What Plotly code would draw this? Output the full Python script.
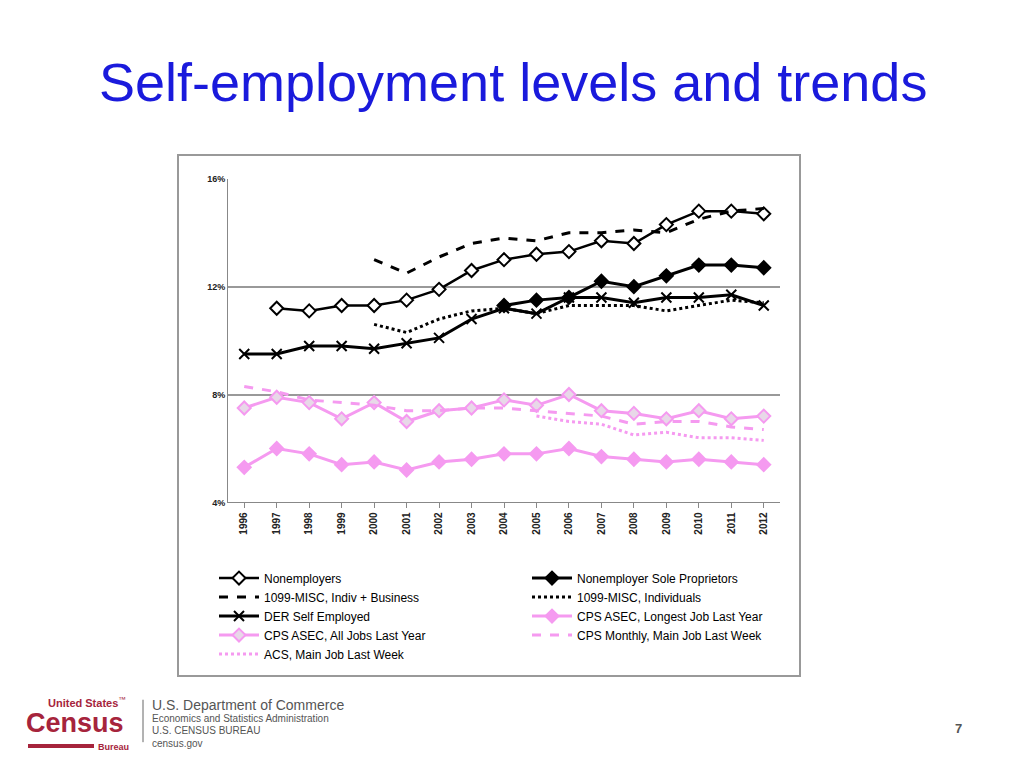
import plotly.graph_objects as go

years = list(range(1996, 2013))
nonemployers = [None, 11.2, 11.1, 11.3, 11.3, 11.5, 11.9, 12.6, 13.0, 13.2, 13.3, 13.7, 13.6, 14.3, 14.8, 14.8, 14.7]
sole_prop = [None]*8 + [11.3, 11.5, 11.6, 12.2, 12.0, 12.4, 12.8, 12.8, 12.7]
misc_ib = [None]*4 + [13.0, 12.5, 13.1, 13.6, 13.8, 13.7, 14.0, 14.0, 14.1, 14.0, 14.5, 14.8, 14.9]
misc_ind = [None]*4 + [10.6, 10.3, 10.8, 11.1, 11.2, 11.0, 11.3, 11.3, 11.3, 11.1, 11.3, 11.5, 11.4]
der = [9.5, 9.5, 9.8, 9.8, 9.7, 9.9, 10.1, 10.8, 11.2, 11.0, 11.6, 11.6, 11.4, 11.6, 11.6, 11.7, 11.3]
cps_long = [5.3, 6.0, 5.8, 5.4, 5.5, 5.2, 5.5, 5.6, 5.8, 5.8, 6.0, 5.7, 5.6, 5.5, 5.6, 5.5, 5.4]
cps_all = [7.5, 7.9, 7.7, 7.1, 7.7, 7.0, 7.4, 7.5, 7.8, 7.6, 8.0, 7.4, 7.3, 7.1, 7.4, 7.1, 7.2]
cps_month = [8.3, 8.1, 7.8, 7.7, 7.6, 7.4, 7.4, 7.5, 7.5, 7.4, 7.3, 7.2, 6.9, 7.0, 7.0, 6.8, 6.7]
acs = [None]*9 + [7.2, 7.0, 6.9, 6.5, 6.6, 6.4, 6.4, 6.3]

W, H = 1008, 752
def X(px): return (px - 8) / W
def Y(py): return 1 - (py - 8) / H

PINK = "#f59af0"
RED = "#a6243c"
fig = go.Figure()
def add(name, y, color, dash, width, legend, symbol=None, size=9, mcolor=None, mline=None):
    mode = "lines+markers" if symbol else "lines"
    marker = dict(symbol=symbol, size=size, color=mcolor or color,
                  line=dict(color=mline or color, width=2)) if symbol else None
    fig.add_trace(go.Scatter(x=years, y=y, name=name, mode=mode, legend=legend,
                             line=dict(color=color, dash=dash, width=width),
                             marker=marker, connectgaps=False))

add("Nonemployers", nonemployers, "black", "solid", 2.5, "legend", "diamond", 10, "white", "black")
add("Nonemployer Sole Proprietors", sole_prop, "black", "solid", 3, "legend2", "diamond", 10)
add("1099-MISC, Indiv + Business", misc_ib, "black", "dash", 3, "legend")
add("1099-MISC, Individuals", misc_ind, "black", "dot", 3, "legend2")
add("DER Self Employed", der, "black", "solid", 3, "legend", "x-thin-open", 10)
add("CPS ASEC, Longest Job Last Year", cps_long, PINK, "solid", 3, "legend2", "diamond", 10)
add("CPS ASEC, All Jobs Last Year", cps_all, PINK, "solid", 3, "legend", "diamond", 10, "#e8d8e8", PINK)
add("CPS Monthly, Main Job Last Week", cps_month, PINK, "dash", 3, "legend2")
add("ACS, Main Job Last Week", acs, PINK, "dot", 3, "legend")

leg = dict(orientation="v", xanchor="left", yanchor="top", font=dict(size=12),
           tracegroupgap=0, itemwidth=40, bgcolor="rgba(0,0,0,0)", traceorder="normal")
fig.update_layout(
    width=W, height=H, margin=dict(l=0, r=0, t=0, b=0),
    paper_bgcolor="white", plot_bgcolor="white",
    font=dict(family="Liberation Sans, Arial", color="black"),
    xaxis=dict(domain=[X(228), X(780)], range=[1995.5, 2012.5], tickmode="array",
               tickvals=years, ticktext=["<b>%d</b>" % y for y in years], tickangle=-90,
               tickfont=dict(size=10, family="Liberation Sans", color="#222"),
               showline=True, linecolor="#888", ticks="outside", ticklen=5, tickcolor="#888",
               showgrid=False, zeroline=False),
    yaxis=dict(domain=[Y(504), Y(176)], range=[4, 16], tickvals=[4, 8, 12, 16],
               ticktext=["<b>4%</b>", "<b>8%</b>", "<b>12%</b>", "<b>16%</b>"], tickfont=dict(size=9, color="#222"),
               showline=True, linecolor="#888", gridcolor="#999", gridwidth=1.5, zeroline=False),
    legend=dict(leg, x=X(214), y=Y(566)),
    legend2=dict(leg, x=X(527), y=Y(566)),
    showlegend=True,
)
fig.add_shape(type="rect", xref="paper", yref="paper", x0=X(178), x1=X(800), y0=Y(680), y1=Y(152),
              line=dict(color="#999", width=2), layer="below")
def ann(text, x, y, size, color, xanchor="left"):
    fig.add_annotation(text=text, xref="paper", yref="paper", x=X(x), y=Y(y), xanchor=xanchor,
                       yanchor="middle", showarrow=False, font=dict(size=size, color=color))
ann("Self-employment levels and trends", 513, 78, 54, "#1a1adc", "center")
ann("<b>United States</b><sup>™</sup>", 46, 706, 11, RED)
ann("<b>Census</b>", 24, 728, 27, RED)
ann("<b>Bureau</b>", 96, 752, 9, RED)
fig.add_shape(type="line", xref="paper", yref="paper", x0=X(28), x1=X(94), y0=Y(751), y1=Y(751),
              line=dict(color=RED, width=4))
fig.add_shape(type="line", xref="paper", yref="paper", x0=X(143), x1=X(143), y0=Y(704), y1=Y(747),
              line=dict(color="#666", width=1))
ann("U.S. Department of Commerce", 150, 709, 14, "#555")
for i, t in enumerate(["Economics and Statistics Administration", "U.S. CENSUS BUREAU", "census.gov"]):
    ann(t, 150, 723 + i * 12.5, 10, "#555")
ann("<b>7</b>", 958, 733, 13, "#555", "center")
fig.write_html("out.html")
